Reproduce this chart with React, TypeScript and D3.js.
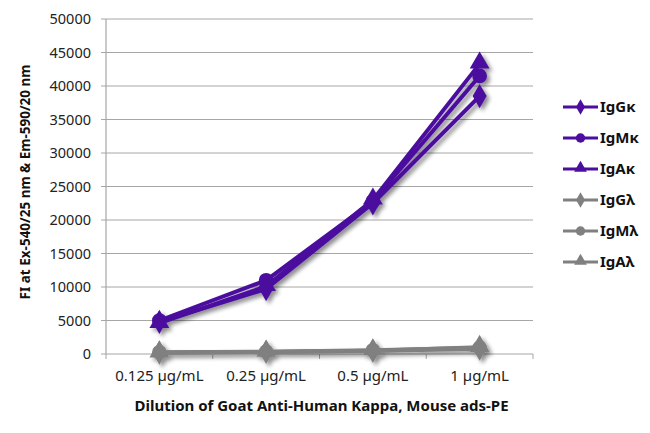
import React from "react";
import * as d3 from "d3";

const categories = ["0.125 µg/mL", "0.25 µg/mL", "0.5 µg/mL", "1 µg/mL"];
const yTicks = [0, 5000, 10000, 15000, 20000, 25000, 30000, 35000, 40000, 45000, 50000];

const seriesNames = ["IgGκ", "IgMκ", "IgAκ", "IgGλ", "IgMλ", "IgAλ"];
const seriesShapes = ["diamond", "circle", "triangle", "diamond", "circle", "triangle"];
const seriesColors = ["#4b0e9e", "#4b0e9e", "#4b0e9e", "#808080", "#808080", "#808080"];
const IgGk = [4800, 9700, 22500, 38500];
const IgMk = [5000, 11000, 22800, 41500];
const IgAk = [4600, 10100, 23000, 43300];
const IgGl = [200, 300, 450, 800];
const IgMl = [250, 350, 550, 950];
const IgAl = [200, 300, 500, 1000];
const seriesValues = [IgGk, IgMk, IgAk, IgGl, IgMl, IgAl];

const W = 650, H = 433;
const left = 106, right = 533, top = 19, bottom = 354;
const font = "'Noto Sans', 'Open Sans', sans-serif";

function Marker({ shape, x, y, color, size }: { shape: string; x: number; y: number; color: string; size: number }) {
  const sym = shape === "diamond" ? d3.symbolDiamond : shape === "circle" ? d3.symbolCircle : d3.symbolTriangle;
  const d = d3.symbol().type(sym).size(size)() as string;
  const dy = shape === "triangle" ? -1 : 0;
  return <path d={d} transform={`translate(${x},${y + dy})`} fill={color} />;
}

export default function App() {
  const x = d3.scaleBand<string>().domain(categories).range([left, right]);
  const y = d3.scaleLinear().domain([0, 50000]).range([bottom, top]);
  const line = d3
    .line<number>()
    .x((_, i) => (x(categories[i]) as number) + x.bandwidth() / 2)
    .y((v) => y(v));

  const order = [3, 4, 5, 0, 1, 2];
  return (
    <svg width={W} height={H} style={{ position: "absolute", left: 0, top: 0, background: "#fff" }}>
      <defs>
        <filter id="sh" x="-20%" y="-20%" width="140%" height="140%">
          <feGaussianBlur in="SourceAlpha" stdDeviation="2" />
          <feOffset dx="3" dy="3" result="b" />
          <feComponentTransfer>
            <feFuncA type="linear" slope="0.45" />
          </feComponentTransfer>
          <feMerge>
            <feMergeNode />
            <feMergeNode in="SourceGraphic" />
          </feMerge>
        </filter>
      </defs>
      {yTicks.map((t) => (
        <g key={t}>
          {t > 0 && <line x1={left} x2={right} y1={y(t)} y2={y(t)} stroke="#a6a6a6" strokeWidth={1} />}
          <line x1={left - 5} x2={left} y1={y(t)} y2={y(t)} stroke="#a6a6a6" strokeWidth={1} />
          <text x={left - 15} y={y(t)} dy="0.35em" textAnchor="end" fontFamily={font} fontSize={14.5} fill="#222">
            {t}
          </text>
        </g>
      ))}
      <line x1={left} x2={left} y1={top} y2={bottom} stroke="#a6a6a6" strokeWidth={1.2} />
      <line x1={left} x2={right} y1={bottom} y2={bottom} stroke="#a6a6a6" strokeWidth={1.2} />
      {categories.map((c, i) => (
        <line key={"tk" + i} x1={(x(c) as number) + x.bandwidth()} x2={(x(c) as number) + x.bandwidth()} y1={bottom} y2={bottom + 5} stroke="#a6a6a6" />
      ))}
      <line x1={left} x2={left} y1={bottom} y2={bottom + 5} stroke="#a6a6a6" />
      {categories.map((c) => (
        <text key={c} x={(x(c) as number) + x.bandwidth() / 2} y={bottom + 27} textAnchor="middle" fontFamily={font} fontSize={15} fill="#222">
          {c}
        </text>
      ))}
      <g filter="url(#sh)">
        {order.map((si) => (
          <g key={seriesNames[si]}>
            <path d={line(seriesValues[si]) as string} fill="none" stroke={seriesColors[si]} strokeWidth={4} strokeLinejoin="round" />
            {seriesValues[si].map((v, i) => (
              <Marker key={i} shape={seriesShapes[si]} x={(x(categories[i]) as number) + x.bandwidth() / 2} y={y(v)} color={seriesColors[si]} size={170} />
            ))}
          </g>
        ))}
      </g>
      {seriesNames.map((n, i) => {
        const ly = 107 + i * 31;
        return (
          <g key={n}>
            <line x1={563} x2={598} y1={ly} y2={ly} stroke={seriesColors[i]} strokeWidth={3} />
            <Marker shape={seriesShapes[i]} x={580.5} y={ly} color={seriesColors[i]} size={70} />
            <text x={600} y={ly} dy="0.36em" fontFamily={font} fontSize={15} fontWeight="bold" fill="#111">
              {n}
            </text>
          </g>
        );
      })}
      <text x={(left + right) / 2 + 2} y={411} textAnchor="middle" fontFamily={font} fontSize={15} fontWeight="bold" fill="#111">
        Dilution of Goat Anti-Human Kappa, Mouse ads-PE
      </text>
      <text transform={`translate(30,182) rotate(-90)`} textAnchor="middle" fontFamily={font} fontSize={13.5} fontWeight="bold" fill="#111">
        FI at Ex-540/25 nm &amp; Em-590/20 nm
      </text>
    </svg>
  );
}
